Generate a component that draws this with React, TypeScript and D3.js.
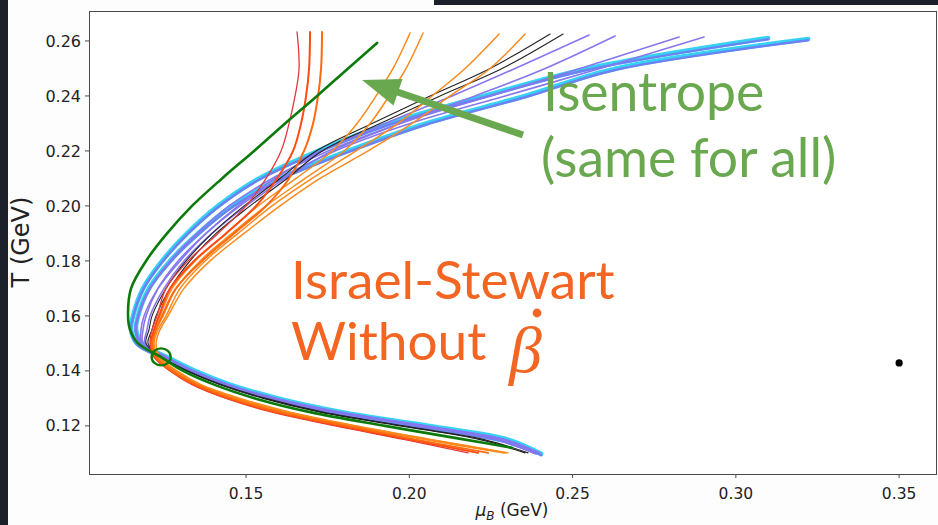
import React from "react";
import * as d3 from "d3";

// Shared temperature levels (GeV) at which each trajectory's mu_B is tabulated
const T_LEVELS = [0.25, 0.24, 0.23, 0.22, 0.21, 0.2, 0.19, 0.18, 0.17, 0.16, 0.155, 0.15, 0.145, 0.14, 0.135, 0.13, 0.125, 0.12, 0.115];

// Each trajectory: start point [muB, T], muB at T_LEVELS, end point [muB, T]
const isentrope = {
  top: [0.19012, 0.25927],
  mu: [0.18124, 0.17175, 0.16195, 0.15245, 0.14265, 0.13346, 0.1258, 0.11937, 0.11478, 0.11386, 0.11447, 0.11692, 0.12397, 0.13071, 0.1402, 0.15276, 0.1696, 0.19257, 0.21708],
  end: [0.23147, 0.112],
};
const cyanA = {
  top: [0.30987, 0.26109],
  mu: [0.25475, 0.22289, 0.1938, 0.17205, 0.15398, 0.14142, 0.13193, 0.12427, 0.11845, 0.11539, 0.11478, 0.11661, 0.12458, 0.13315, 0.14387, 0.15796, 0.17695, 0.20268, 0.2278],
  end: [0.23882, 0.11055],
};
const cyanB = {
  top: [0.32212, 0.26073],
  mu: [0.26333, 0.23545, 0.20513, 0.18124, 0.16041, 0.14571, 0.1353, 0.12672, 0.12029, 0.11692, 0.11631, 0.11815, 0.1258, 0.13438, 0.1451, 0.1598, 0.1794, 0.20574, 0.23025],
  end: [0.24036, 0.10982],
};
const violet1 = {
  top: [0.25505, 0.26218],
  mu: [0.23239, 0.21309, 0.19257, 0.17328, 0.15888, 0.14755, 0.13775, 0.12917, 0.12305, 0.11937, 0.11845, 0.11845, 0.1255, 0.13346, 0.14418, 0.15796, 0.17695, 0.20268, 0.22718],
  end: [0.23852, 0.10982],
};
const violet2 = {
  top: [0.26302, 0.26182],
  mu: [0.24158, 0.22014, 0.19717, 0.17634, 0.16195, 0.15, 0.13959, 0.13101, 0.12489, 0.1206, 0.11968, 0.11907, 0.1258, 0.13377, 0.14449, 0.15827, 0.17787, 0.20329, 0.2278],
  end: [0.23913, 0.10982],
};
const violet3 = {
  top: [0.28262, 0.26145],
  mu: [0.2523, 0.22473, 0.19717, 0.17512, 0.15796, 0.14479, 0.13499, 0.12672, 0.1206, 0.11692, 0.116, 0.11753, 0.12519, 0.13377, 0.14449, 0.15858, 0.17818, 0.20452, 0.22902],
  end: [0.23974, 0.11018],
};
const violet4 = {
  top: [0.29027, 0.26145],
  mu: [0.25842, 0.22933, 0.20023, 0.17726, 0.16041, 0.14816, 0.13775, 0.12979, 0.12305, 0.11876, 0.11784, 0.11815, 0.1255, 0.13407, 0.14479, 0.15919, 0.17879, 0.20513, 0.22933],
  end: [0.24, 0.11018],
};
const black1 = {
  top: [0.24311, 0.26255],
  mu: [0.22473, 0.20636, 0.18859, 0.17144, 0.16041, 0.14939, 0.13959, 0.13162, 0.1255, 0.12121, 0.12029, 0.11937, 0.12397, 0.13193, 0.14204, 0.15521, 0.17266, 0.19717, 0.22167],
  end: [0.23545, 0.11018],
};
const black2 = {
  top: [0.24709, 0.26255],
  mu: [0.22841, 0.20942, 0.19104, 0.17328, 0.16256, 0.15123, 0.14081, 0.13285, 0.12672, 0.12244, 0.12121, 0.11998, 0.12427, 0.13224, 0.14265, 0.15613, 0.17358, 0.19809, 0.22289],
  end: [0.23637, 0.11018],
};
const orange1 = {
  top: [0.20023, 0.26291],
  mu: [0.19502, 0.18982, 0.184, 0.17634, 0.16531, 0.15368, 0.14387, 0.13438, 0.12734, 0.12366, 0.12182, 0.12121, 0.12274, 0.12795, 0.13499, 0.14633, 0.16133, 0.18185, 0.20482],
  end: [0.22871, 0.11018],
};
const orange2 = {
  top: [0.20421, 0.26291],
  mu: [0.199, 0.1938, 0.18798, 0.18002, 0.16807, 0.15613, 0.14571, 0.13591, 0.12856, 0.12458, 0.12244, 0.12152, 0.12305, 0.12825, 0.1356, 0.14694, 0.16225, 0.18277, 0.20574],
  end: [0.22933, 0.11018],
};
const orange3 = {
  top: [0.22749, 0.26255],
  mu: [0.21708, 0.20697, 0.19655, 0.18369, 0.17021, 0.15796, 0.14755, 0.13744, 0.12979, 0.1255, 0.12305, 0.12182, 0.12335, 0.12856, 0.13591, 0.14755, 0.16286, 0.18339, 0.20636],
  end: [0.22963, 0.11018],
};
const orange4 = {
  top: [0.23545, 0.26255],
  mu: [0.22473, 0.21248, 0.20084, 0.18737, 0.17266, 0.16041, 0.14939, 0.13897, 0.13101, 0.12611, 0.12366, 0.12244, 0.12366, 0.12887, 0.13622, 0.14816, 0.16348, 0.184, 0.20697],
  end: [0.23025, 0.11018],
};
const red1 = {
  top: [0.16562, 0.26327],
  mu: [0.16623, 0.16501, 0.16317, 0.16072, 0.15613, 0.15, 0.14142, 0.13224, 0.1255, 0.12274, 0.12121, 0.1206, 0.12182, 0.12672, 0.13346, 0.14387, 0.15796, 0.17726, 0.1987],
  end: [0.21799, 0.11018],
};
const red2 = {
  top: [0.1696, 0.26327],
  mu: [0.1693, 0.16838, 0.16685, 0.1644, 0.1595, 0.15306, 0.14387, 0.13407, 0.12672, 0.12335, 0.12182, 0.1209, 0.12213, 0.12703, 0.13407, 0.14449, 0.15888, 0.17879, 0.20023],
  end: [0.22106, 0.11018],
};
const red3 = {
  top: [0.17328, 0.26327],
  mu: [0.17297, 0.17205, 0.17052, 0.16776, 0.16317, 0.15613, 0.14633, 0.13652, 0.12856, 0.12427, 0.12244, 0.12121, 0.12244, 0.12734, 0.13469, 0.14541, 0.16011, 0.18063, 0.20207],
  end: [0.22412, 0.11018],
};

// Marked crossing point on the isentrope and the lone reference point
const crossingPoint = [0.124, 0.1451];
const lonePoint = [0.35, 0.1429];

const X_TICKS = [0.15, 0.2, 0.25, 0.3, 0.35];
const Y_TICKS = [0.12, 0.14, 0.16, 0.18, 0.2, 0.22, 0.24, 0.26];

type Traj = { top: number[]; mu: number[]; end: number[] };

const W = 938;
const H = 525;
const x = d3.scaleLinear().domain([0.1019, 0.3616]).range([89, 937]);
const y = d3.scaleLinear().domain([0.1025, 0.2709]).range([474, 11]);

const toPoints = (t: Traj): [number, number][] => [
  [t.top[0], t.top[1]],
  ...T_LEVELS.map((T, i) => [t.mu[i], T] as [number, number]),
  [t.end[0], t.end[1]],
];

const line = d3
  .line<[number, number]>()
  .x((d) => x(d[0]))
  .y((d) => y(d[1]))
  .curve(d3.curveCatmullRom.alpha(0.5));

const FONT = "'DejaVu Sans', sans-serif";
const ANNOT = "Lato, 'Open Sans', sans-serif";
const GREEN_TXT = "#6aa84f";
const ORANGE_TXT = "#f26522";

function Path({ t, color, width, dy = 0 }: { t: Traj; color: string; width: number; dy?: number }) {
  return (
    <path
      d={line(toPoints(t)) || ""}
      fill="none"
      stroke={color}
      strokeWidth={width}
      strokeLinecap="round"
      strokeLinejoin="round"
      transform={dy ? `translate(0,${dy})` : undefined}
    />
  );
}

export default function App() {
  const [x0, x1] = x.range();
  const [y0, y1] = y.range();
  return (
    <svg width={W} height={H} style={{ position: "absolute", left: 0, top: 0, background: "#fdfdfd" }}>
      <rect x={0} y={0} width={W} height={H} fill="#fdfdfd" />
      {/* dark slide edges */}
      <rect x={0} y={0} width={8} height={H} fill="#1b202b" />
      <rect x={434} y={0} width={W - 434} height={5} fill="#1b202b" />

      {/* plot area */}
      <rect x={x0} y={y1} width={x1 - x0} height={y0 - y1} fill="#ffffff" />

      {/* viscous trajectories */}
      {[cyanA, cyanB].map((t, i) => (
        <g key={"c" + i}>
          <Path t={t} color="#35d2f4" width={4.6} />
          <Path t={t} color="#6c82f2" width={2.4} dy={1.3} />
        </g>
      ))}
      {[violet1, violet2, violet3, violet4].map((t, i) => (
        <Path key={"v" + i} t={t} color="#8677ee" width={1.6} />
      ))}
      {[black1, black2].map((t, i) => (
        <Path key={"k" + i} t={t} color="#222222" width={1.1} />
      ))}
      {[orange1, orange2, orange3, orange4].map((t, i) => (
        <Path key={"o" + i} t={t} color="#fb8a1c" width={1.5} />
      ))}
      <Path t={red1} color="#e23a3a" width={1.3} />
      <Path t={red2} color="#ff4a12" width={2.0} />
      <Path t={red3} color="#ff6a10" width={2.0} />

      {/* isentrope */}
      <Path t={isentrope} color="#0b7a0b" width={2.6} />
      <ellipse
        cx={x(crossingPoint[0])}
        cy={y(crossingPoint[1])}
        rx={9.5}
        ry={8.5}
        fill="none"
        stroke="#0b7a0b"
        strokeWidth={2.4}
      />
      <circle cx={x(lonePoint[0])} cy={y(lonePoint[1])} r={3.6} fill="#000" />

      {/* frame */}
      <rect x={x0 + 0.5} y={y1 + 0.5} width={x1 - x0 - 1} height={y0 - y1} fill="none" stroke="#4a4a4a" strokeWidth={1} />

      {/* y axis */}
      {Y_TICKS.map((v) => (
        <g key={"y" + v}>
          <line x1={x0 - 4} x2={x0} y1={y(v)} y2={y(v)} stroke="#4a4a4a" />
          <text x={x0 - 8} y={y(v)} dy="0.35em" textAnchor="end" fontFamily={FONT} fontSize={16} fill="#222">
            {d3.format(".2f")(v)}
          </text>
        </g>
      ))}
      <text transform="translate(29,242) rotate(-90)" textAnchor="middle" fontFamily={FONT} fontSize={24} fill="#222">
        T (GeV)
      </text>

      {/* x axis */}
      {X_TICKS.map((v) => (
        <g key={"x" + v}>
          <line x1={x(v)} x2={x(v)} y1={y0} y2={y0 + 4} stroke="#4a4a4a" />
          <text x={x(v)} y={y0 + 25} textAnchor="middle" fontFamily={FONT} fontSize={15.5} fill="#222">
            {d3.format(".2f")(v)}
          </text>
        </g>
      ))}
      <text x={512} y={516} textAnchor="middle" fontFamily={FONT} fontSize={17} fill="#222">
        <tspan fontStyle="italic">μ</tspan>
        <tspan fontStyle="italic" fontSize={12} dy={3.5}>B</tspan>
        <tspan dy={-3.5}> (GeV)</tspan>
      </text>

      {/* annotations */}
      <line x1={523} y1={135} x2={396} y2={91.5} stroke={GREEN_TXT} strokeWidth={7} />
      <polygon points="362,80 402.5,79 393.5,105.6" fill={GREEN_TXT} />
      <text x={543} y={111} fontFamily={ANNOT} fontSize={53.5} fill={GREEN_TXT}>
        Isentrope
      </text>
      <text x={541} y={177} fontFamily={ANNOT} fontSize={53.5} fill={GREEN_TXT}>
        (same for all)
      </text>
      <text x={291} y={299} fontFamily={ANNOT} fontSize={53.2} fill={ORANGE_TXT}>
        Israel-Stewart
      </text>
      <text x={291} y={360} fontFamily={ANNOT} fontSize={53.2} fill={ORANGE_TXT}>
        Without
      </text>
      <text x={509} y={372} fontFamily="'Liberation Serif', serif" fontStyle="italic" fontSize={66} fill={ORANGE_TXT}>
        β
      </text>
      <circle cx={537} cy={313} r={4.4} fill={ORANGE_TXT} />
    </svg>
  );
}
